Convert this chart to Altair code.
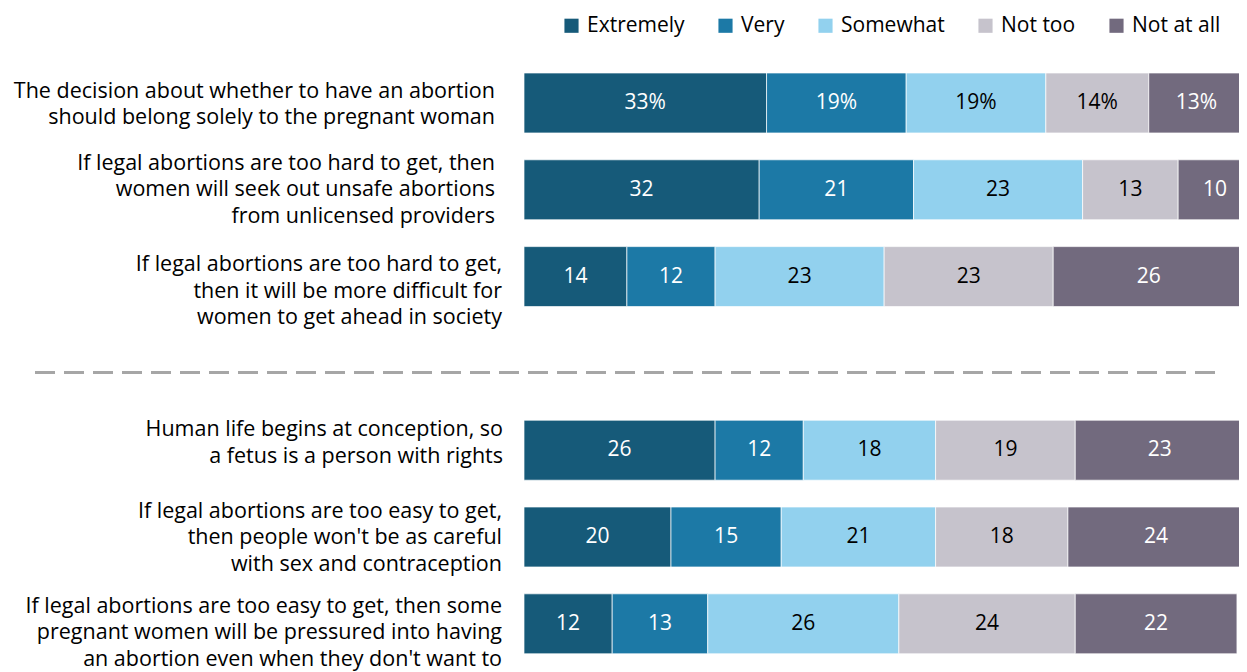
import altair as alt
import pandas as pd

statements = [
    "The decision about whether to have an abortion|should belong solely to the pregnant woman",
    "If legal abortions are too hard to get, then|women will seek out unsafe abortions|from unlicensed providers",
    "If legal abortions are too hard to get,|then it will be more difficult for|women to get ahead in society",
    "Human life begins at conception, so|a fetus is a person with rights",
    "If legal abortions are too easy to get,|then people won't be as careful|with sex and contraception",
    "If legal abortions are too easy to get, then some|pregnant women will be pressured into having|an abortion even when they don't want to",
]
separator = " "
categories = ["Extremely", "Very", "Somewhat", "Not too", "Not at all"]
extremely = [33, 32, 14, 26, 20, 12]
very = [19, 21, 12, 12, 15, 13]
somewhat = [19, 23, 23, 18, 21, 26]
not_too = [14, 13, 23, 19, 18, 24]
not_at_all = [13, 10, 26, 23, 24, 22]
colors = ["#165a79", "#1c79a6", "#92d1ee", "#c6c3cc", "#726a7e"]

# placement of each label block (style only): first-line shift and right edge
label_dy = [-11, -26, -11.5, -20, -25.5, -17]
label_x = [-29, -29, -22, -21, -22, -22]

series = [extremely, very, somewhat, not_too, not_at_all]
rows = []
for i, s in enumerate(statements):
    for j, cat in enumerate(categories):
        v = series[j][i]
        rows.append({
            "statement": s,
            "category": cat,
            "order": j,
            "value": v,
            "label": f"{v}%" if i == 0 else str(v),
        })
df = pd.DataFrame(rows)

y_domain = statements[:3] + [separator] + statements[3:]
yscale = alt.Scale(domain=y_domain, paddingInner=0.309, paddingOuter=0.1105, align=0.677)
xscale = alt.Scale(domain=[0, 97.28], nice=False, zero=True)
FONT = "Open Sans"

base = alt.Chart(df).transform_stack(
    stack="value", groupby=["statement"], as_=["x0", "x1"],
    sort=[alt.SortField("order", order="ascending")],
).transform_calculate(mid="(datum.x0 + datum.x1) / 2")

bars = base.mark_bar(stroke="white", strokeWidth=0.7).encode(
    y=alt.Y("statement:N", scale=yscale, axis=None),
    x=alt.X("x0:Q", scale=xscale, axis=None),
    x2="x1:Q",
    color=alt.Color(
        "category:N",
        scale=alt.Scale(domain=categories, range=colors),
        legend=alt.Legend(
            orient="none", legendX=37, legendY=-45, direction="horizontal",
            title=None, symbolType="square", symbolSize=200, symbolStrokeWidth=0,
            labelFontSize=21, labelFont=FONT, labelColor="#000000",
            columnPadding=30, labelOffset=5,
        ),
    ),
)

texts = base.mark_text(fontSize=21, font=FONT).encode(
    y=alt.Y("statement:N", scale=yscale, axis=None),
    x=alt.X("mid:Q", scale=xscale, axis=None),
    text="label:N",
    color=alt.condition(
        "datum.category == 'Somewhat' || datum.category == 'Not too'",
        alt.value("#000000"), alt.value("#ffffff"),
    ),
)

label_layers = []
for s, d, lx in zip(statements, label_dy, label_x):
    label_layers.append(
        alt.Chart(pd.DataFrame({"statement": [s]})).mark_text(
            align="right", baseline="middle", dy=d, lineBreak="|",
            lineHeight=26.5, fontSize=21.5, font=FONT, color="#000000",
        ).encode(
            y=alt.Y("statement:N", scale=yscale, axis=None),
            x=alt.value(lx),
            text="statement:N",
        )
    )

rule = alt.Chart(pd.DataFrame({"statement": [separator]})).mark_rule(
    strokeDash=[20, 9], color="#a6a6a6", strokeWidth=3,
).encode(
    y=alt.Y("statement:N", scale=yscale, axis=None, bandPosition=0.65),
    x=alt.value(-489),
    x2=alt.value(694),
)

chart = alt.layer(bars, texts, rule, *label_layers).properties(
    width=715, height=600,
    autosize=alt.AutoSizeParams(type="none"),
    padding={"left": 516, "top": 52, "right": 0, "bottom": 12},
).configure_view(stroke=None)

chart.save("out.html", embed_options={"renderer": "svg", "actions": False})
